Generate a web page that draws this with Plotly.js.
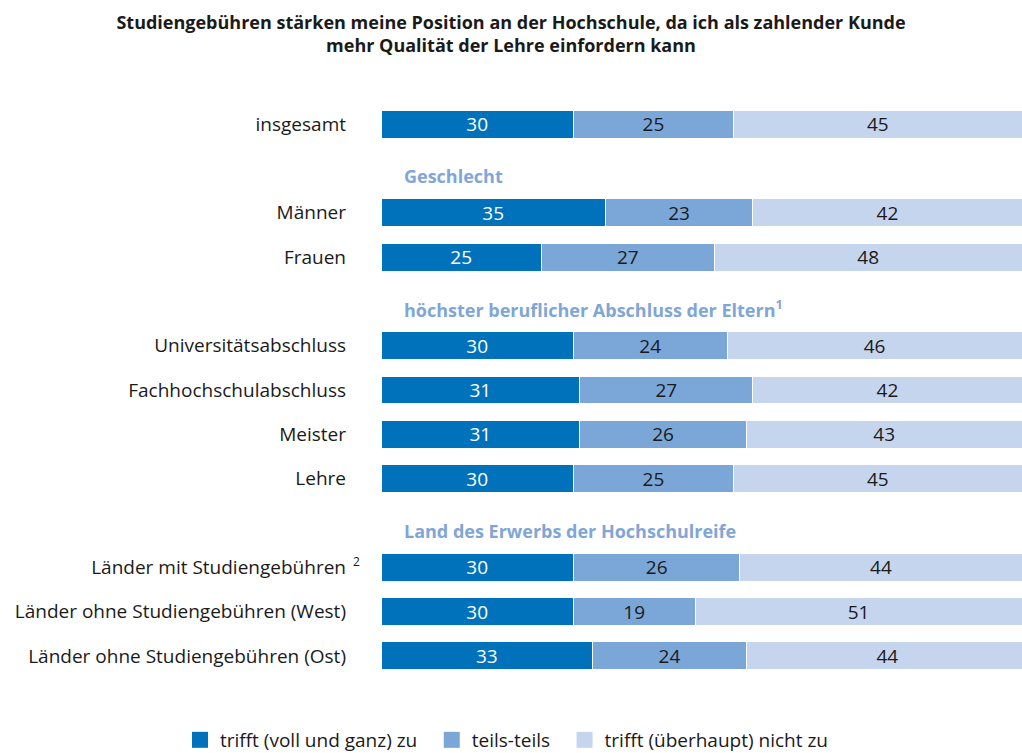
<!DOCTYPE html>
<html>
<head>
<meta charset="utf-8">
<script src="https://cdn.plot.ly/plotly-3.0.1.min.js"></script>
<style>
  body { margin: 0; background: #fff; }
  #chart { width: 1022px; height: 753px; }
</style>
</head>
<body>
<div id="chart"></div>
<script>
// rows (empty slots are the group headers)
var rows = ["insgesamt", "", "Männer", "Frauen", "", "Universitätsabschluss",
  "Fachhochschulabschluss", "Meister", "Lehre", "",
  "Länder mit Studiengebühren", "Länder ohne Studiengebühren (West)",
  "Länder ohne Studiengebühren (Ost)"];
var groups = ["Geschlecht", "höchster beruflicher Abschluss der Eltern<sup>1</sup>",
  "Land des Erwerbs der Hochschulreife"];
var groupRows = [1, 4, 9];

var trifftZu = [30, null, 35, 25, null, 30, 31, 31, 30, null, 30, 30, 33];
var teils = [25, null, 23, 27, null, 24, 27, 26, 25, null, 26, 19, 24];
var trifftNicht = [45, null, 42, 48, null, 46, 42, 43, 45, null, 44, 51, 44];

var seriesNames = ["trifft (voll und ganz) zu", "teils-teils", "trifft (überhaupt) nicht zu"];
var colors = ["#0072bb", "#7ba7d8", "#c6d5ee"];
var textColors = ["#ffffff", "#1a1a1a", "#1a1a1a"];

var font = "Open Sans, sans-serif";
var pos = rows.map(function (r, i) { return i; });

var data = [trifftZu, teils, trifftNicht].map(function (vals, k) {
  return {
    type: "bar",
    orientation: "h",
    name: seriesNames[k],
    x: vals,
    y: pos,
    width: 0.63,
    text: vals.map(function (v) { return v == null ? "" : String(v); }),
    textposition: "inside",
    insidetextanchor: "middle",
    constraintext: "none",
    textangle: 0,
    textfont: { family: font, size: 19, color: textColors[k] },
    marker: { color: colors[k], line: { color: "#ffffff", width: 1 } },
    hoverinfo: "skip",
    showlegend: false
  };
});

// legend entries with large square swatches (en space widens the gap between items)
seriesNames.forEach(function (n, k) {
  data.push({
    type: "scatter",
    mode: "markers",
    name: k < seriesNames.length - 1 ? n + "\u2002" : n,
    x: [null],
    y: [null],
    marker: { symbol: "square", size: 19, color: colors[k] },
    hoverinfo: "skip"
  });
});

var annotations = groups.map(function (g, i) {
  return {
    xref: "paper", yref: "y",
    x: 0.033, y: groupRows[i] + 0.18,
    xanchor: "left", yanchor: "middle",
    text: "<b>" + g + "</b>",
    showarrow: false,
    font: { family: font, size: 18, color: "#7fa6d7" }
  };
});

// footnote mark hanging right of the "Länder mit Studiengebühren" label
annotations.push({
  xref: "paper", yref: "y",
  x: -0.047, y: 10, yshift: 6,
  xanchor: "left", yanchor: "middle",
  text: "2",
  showarrow: false,
  font: { family: font, size: 12, color: "#1a1a1a" }
});

var layout = {
  width: 1022,
  height: 753,
  margin: { l: 381, r: 0, t: 102, b: 75, autoexpand: false },
  paper_bgcolor: "#ffffff",
  plot_bgcolor: "#ffffff",
  barmode: "stack",
  title: {
    text: "<b>Studiengebühren stärken meine Position an der Hochschule, da ich als zahlender Kunde<br>mehr Qualität der Lehre einfordern kann</b>",
    font: { family: font, size: 18, color: "#1a1a1a" },
    x: 0.5, xref: "container", xanchor: "center",
    y: 0.962, yref: "container", yanchor: "middle"
  },
  xaxis: {
    range: [0, 100],
    showgrid: false, zeroline: false, showticklabels: false, showline: false,
    fixedrange: true
  },
  yaxis: {
    range: [12.5, -0.5],
    tickmode: "array",
    tickvals: pos,
    ticktext: rows,
    ticks: "",
    ticklabelstandoff: 34,
    showgrid: false, zeroline: false, showline: false,
    tickfont: { family: font, size: 19, color: "#1a1a1a" },
    fixedrange: true
  },
  showlegend: true,
  legend: {
    orientation: "h",
    x: -0.3136, xanchor: "left",
    y: -0.1076, yanchor: "middle",
    font: { family: font, size: 19, color: "#1a1a1a" },
    traceorder: "normal",
    itemwidth: 30
  },
  annotations: annotations
};

Plotly.newPlot("chart", data, layout, { displayModeBar: false, staticPlot: true });
</script>
</body>
</html>
